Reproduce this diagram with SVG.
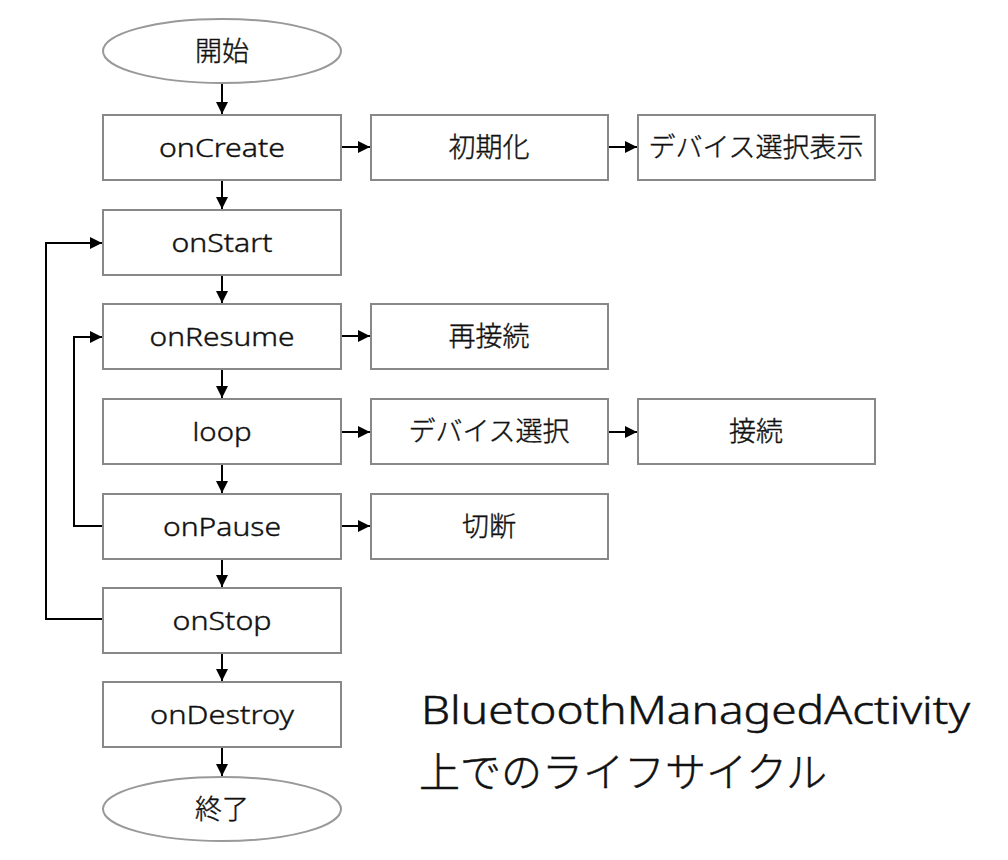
<svg xmlns="http://www.w3.org/2000/svg" width="1008" height="860" viewBox="0 0 1008 860">
<style>
.box{fill:#fff;stroke:#888;stroke-width:2}
.ell{fill:#fff;stroke:#999;stroke-width:2}
.lat{font-family:"Noto Sans","Liberation Sans",sans-serif;font-weight:300;font-size:26px;fill:#111;stroke:#111;stroke-width:0.4;text-anchor:middle}
.cjk{font-family:"Noto Sans CJK JP","Noto Sans",sans-serif;font-weight:300;font-size:27px;fill:#111;stroke:#111;stroke-width:0.4;text-anchor:middle}
.con{fill:none;stroke:#000;stroke-width:2}
.big{font-family:"Noto Sans","Noto Sans CJK JP",sans-serif;font-weight:300;font-size:39px;fill:#111;stroke:#111;stroke-width:0.5}
.bigj{font-family:"Noto Sans CJK JP",sans-serif;font-weight:300;font-size:41px;fill:#111;stroke:#111;stroke-width:0.5}
</style>
<defs>
<marker id="ah" viewBox="0 0 10 10" refX="10" refY="5" markerWidth="6" markerHeight="6" orient="auto" markerUnits="strokeWidth">
<path d="M0,0 L10,5 L0,10 z" fill="#000"/>
</marker>
</defs>
<g id="connectors">
<line class="con" x1="222" y1="83" x2="222" y2="114" marker-end="url(#ah)"/>
<line class="con" x1="222" y1="180" x2="222" y2="209" marker-end="url(#ah)"/>
<line class="con" x1="222" y1="275" x2="222" y2="303" marker-end="url(#ah)"/>
<line class="con" x1="222" y1="369" x2="222" y2="398" marker-end="url(#ah)"/>
<line class="con" x1="222" y1="464" x2="222" y2="493" marker-end="url(#ah)"/>
<line class="con" x1="222" y1="559" x2="222" y2="587" marker-end="url(#ah)"/>
<line class="con" x1="222" y1="653" x2="222" y2="681" marker-end="url(#ah)"/>
<line class="con" x1="222" y1="747" x2="222" y2="776" marker-end="url(#ah)"/>
<line class="con" x1="341" y1="147" x2="370" y2="147" marker-end="url(#ah)"/>
<line class="con" x1="608" y1="147" x2="637" y2="147" marker-end="url(#ah)"/>
<line class="con" x1="341" y1="336" x2="370" y2="336" marker-end="url(#ah)"/>
<line class="con" x1="341" y1="432" x2="370" y2="432" marker-end="url(#ah)"/>
<line class="con" x1="608" y1="432" x2="637" y2="432" marker-end="url(#ah)"/>
<line class="con" x1="341" y1="526" x2="370" y2="526" marker-end="url(#ah)"/>
<polyline class="con" points="103,526 74,526 74,337 102,337" marker-end="url(#ah)"/>
<polyline class="con" points="103,619 46,619 46,243 102,243" marker-end="url(#ah)"/>
</g>
<g id="start"><ellipse class="ell" cx="222" cy="51" rx="119" ry="32"/><text class="cjk" x="222" y="61">開始</text></g>
<g id="onCreate"><rect class="box" x="103" y="115" width="238" height="65"/><text class="lat" x="222" y="157" textLength="126" lengthAdjust="spacingAndGlyphs">onCreate</text></g>
<g id="init"><rect class="box" x="371" y="115" width="237" height="65"/><text class="cjk" x="489" y="157">初期化</text></g>
<g id="showDevices"><rect class="box" x="638" y="115" width="237" height="65"/><text class="cjk" x="756" y="157">デバイス選択表示</text></g>
<g id="onStart"><rect class="box" x="103" y="210" width="238" height="65"/><text class="lat" x="222" y="252" textLength="101" lengthAdjust="spacingAndGlyphs">onStart</text></g>
<g id="onResume"><rect class="box" x="103" y="304" width="238" height="65"/><text class="lat" x="222" y="346" textLength="145" lengthAdjust="spacingAndGlyphs">onResume</text></g>
<g id="reconnect"><rect class="box" x="371" y="304" width="237" height="65"/><text class="cjk" x="489" y="346">再接続</text></g>
<g id="loop"><rect class="box" x="103" y="399" width="238" height="65"/><text class="lat" x="222" y="441" textLength="59" lengthAdjust="spacingAndGlyphs">loop</text></g>
<g id="selectDevice"><rect class="box" x="371" y="399" width="237" height="65"/><text class="cjk" x="489" y="441">デバイス選択</text></g>
<g id="connect"><rect class="box" x="638" y="399" width="237" height="65"/><text class="cjk" x="756" y="441">接続</text></g>
<g id="onPause"><rect class="box" x="103" y="494" width="238" height="65"/><text class="lat" x="222" y="536" textLength="118" lengthAdjust="spacingAndGlyphs">onPause</text></g>
<g id="disconnect"><rect class="box" x="371" y="494" width="237" height="65"/><text class="cjk" x="489" y="536">切断</text></g>
<g id="onStop"><rect class="box" x="103" y="588" width="238" height="65"/><text class="lat" x="222" y="630" textLength="99" lengthAdjust="spacingAndGlyphs">onStop</text></g>
<g id="onDestroy"><rect class="box" x="103" y="682" width="238" height="65"/><text class="lat" x="222" y="724" textLength="144" lengthAdjust="spacingAndGlyphs">onDestroy</text></g>
<g id="end"><ellipse class="ell" cx="222" cy="809" rx="119" ry="32"/><text class="cjk" x="222" y="819">終了</text></g>
<g id="title">
<text class="big" x="421" y="724" textLength="549" lengthAdjust="spacingAndGlyphs">BluetoothManagedActivity</text>
<text class="bigj" x="419" y="787">上でのライフサイクル</text>
</g>
</svg>
